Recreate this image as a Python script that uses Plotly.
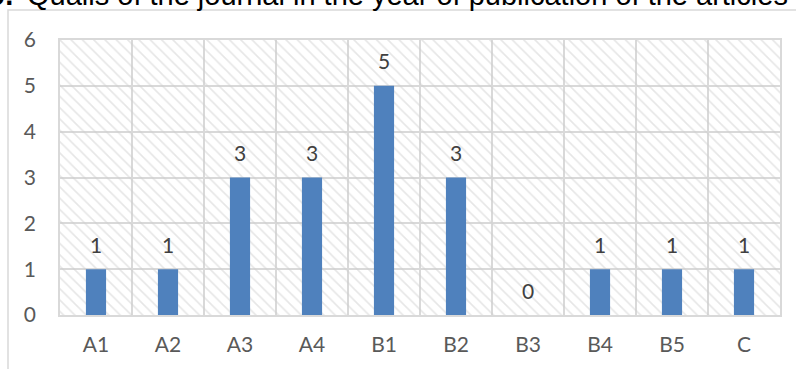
import plotly.graph_objects as go

categories = ["A1", "A2", "A3", "A4", "B1", "B2", "B3", "B4", "B5", "C"]
values = [1, 1, 3, 3, 5, 3, 0, 1, 1, 1]
y_ticks = [0, 1, 2, 3, 4, 5, 6]
title_bold = "9."
title_text = "Qualis of the journal in the year of publication of the articles"

BAR = "#4F81BD"
GRID = "#D9D9D9"
TXT = "#595959"
FONT = "Lato, Open Sans, sans-serif"

fig = go.Figure()

# hatched plot-area background spanning all categories
n = len(categories)
fig.add_trace(go.Bar(
    x=[categories[0]], y=[max(y_ticks)], width=[n], offset=[-0.5],
    marker=dict(color="rgba(0,0,0,0)", line=dict(width=0),
                pattern=dict(shape="\\", fgcolor="#CDCDCD", bgcolor="rgba(0,0,0,0)",
                             size=8, solidity=0.2)),
    hoverinfo="skip", showlegend=False,
))

fig.add_trace(go.Bar(
    x=categories, y=values, width=0.28, offset=-0.14,
    marker=dict(color=BAR, line=dict(width=0)),
    showlegend=False, hoverinfo="skip",
))

for c, v in zip(categories, values):
    fig.add_annotation(x=c, y=v, xref="x", yref="y", text=str(v), showarrow=False,
                       yshift=25, font=dict(family=FONT, size=21, color="#404040"))

title_y = (315 - 13) / 275
fig.add_annotation(xref="paper", yref="paper", x=-35/720, y=title_y,
                   xanchor="left", yanchor="bottom", text=title_text,
                   showarrow=False, font=dict(family="Liberation Sans, Arial", size=29, color="#000000"))
fig.add_annotation(xref="paper", yref="paper", x=-45/720, y=title_y,
                   xanchor="right", yanchor="bottom", text="<b>" + title_bold + "</b>",
                   showarrow=False, font=dict(family="Liberation Sans, Arial", size=29, color="#000000"))

# outer chart frame
fig.add_shape(type="rect", xref="paper", yref="paper",
              x0=-52/720, x1=1.2, y0=-0.3, y1=(315 - 10) / 275,
              line=dict(color=GRID, width=1.5), fillcolor="rgba(0,0,0,0)", layer="below")

fig.update_layout(
    width=796, height=369,
    margin=dict(l=60, r=16, t=40, b=54),
    paper_bgcolor="white", plot_bgcolor="white",
    barmode="overlay",
    xaxis=dict(type="category", categoryarray=categories, categoryorder="array",
               range=[-0.5, n - 0.5], tickson="boundaries",
               showgrid=True, gridcolor=GRID, gridwidth=1.5, ticks="",
               showline=True, linecolor=GRID, linewidth=1.5, mirror=True,
               tickfont=dict(family=FONT, size=21, color=TXT), ticklabelstandoff=10),
    yaxis=dict(range=[0, max(y_ticks)], tickvals=y_ticks, showgrid=True, gridcolor=GRID,
               gridwidth=1.5, zeroline=False, showline=True, linecolor=GRID, linewidth=1.5,
               mirror=True, ticks="", tickfont=dict(family=FONT, size=21, color=TXT),
               ticklabelstandoff=18),
)

fig.write_html("out.html")
